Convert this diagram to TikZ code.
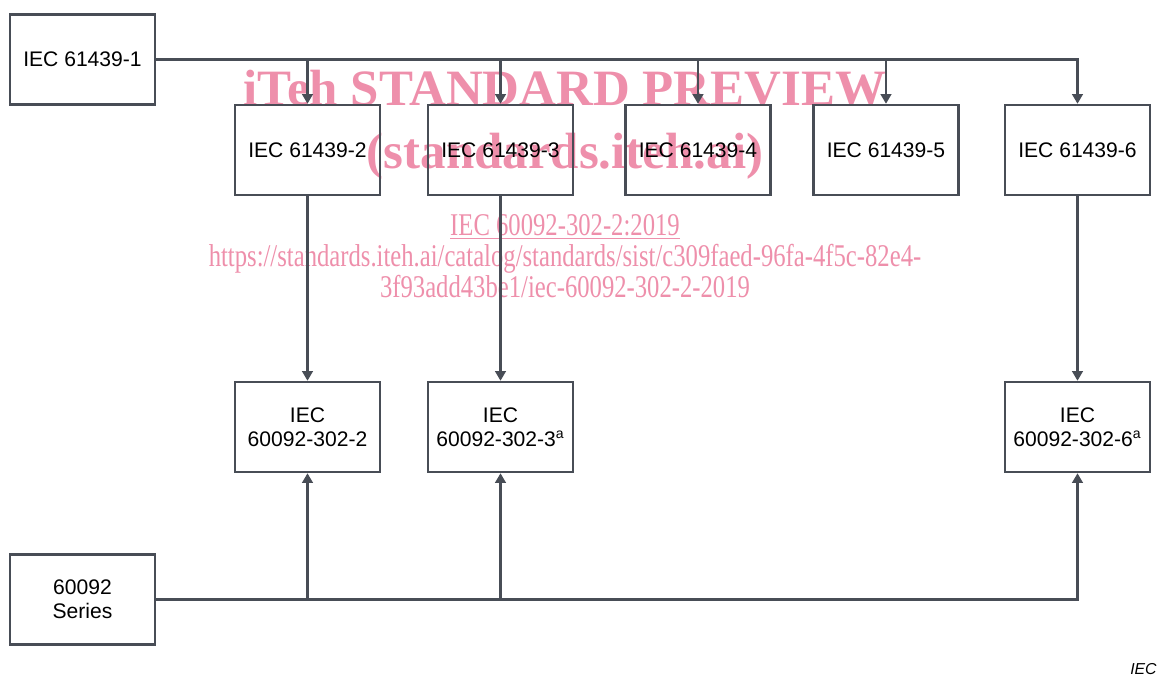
\documentclass[tikz,border=0pt]{standalone}
\usepackage{fontspec}
\setmainfont{Liberation Sans}
\newfontfamily\wmfont{Liberation Serif}
\usetikzlibrary{arrows.meta}
\definecolor{linec}{RGB}{72,77,86}
\definecolor{wmpink}{RGB}{238,143,171}

\tikzset{
  box/.style={draw=linec, line width=1.4pt, minimum width=2.9cm, minimum height=1.8cm,
    align=center, inner sep=0pt, font=\fontsize{12}{13.5}\selectfont},
  conn/.style={draw=linec, line width=1.4pt, -{Triangle[length=5.5pt,width=6pt]}},
  wmbig/.style={text=wmpink, anchor=base, font=\wmfont\bfseries\fontsize{29}{29}\selectfont},
  wmsmall/.style={text=wmpink, anchor=base, font=\wmfont\fontsize{18}{18}\selectfont},
}

\begin{document}
\begin{tikzpicture}[x=0.02cm, y=-0.02cm]
    \useasboundingbox (0,0) rectangle (1161,677);

    % watermark, behind everything
    \node[wmbig] (wmA) at (565,105) {iTeh STANDARD PREVIEW};
    \node[wmbig] (wmB) at (565,168) {(standards.iteh.ai)};
    \node[wmsmall] (wmC) at (565,235) {\scalebox{0.78}[1]{\underline{IEC 60092-302-2:2019}}};
    \node[wmsmall] (wmD) at (565,266) {\scalebox{0.78}[1]{https://standards.iteh.ai/catalog/standards/sist/c309faed-96fa-4f5c-82e4-}};
    \node[wmsmall] (wmE) at (565,297) {\scalebox{0.78}[1]{3f93add43be1/iec-60092-302-2-2019}};

    % IEC 61439 parts
    \node[box] (p1) at (82.5,59.5) {IEC 61439-1};
    \node[box] (p2) at (307.5,150) {IEC 61439-2};
    \node[box] (p3) at (500.5,150) {IEC 61439-3};
    \node[box] (p4) at (698,150) {IEC 61439-4};
    \node[box] (p5) at (886,150) {IEC 61439-5};
    \node[box] (p6) at (1077.5,150) {IEC 61439-6};

    % IEC 60092-302 parts
    \node[box] (m2) at (307.5,427) {IEC\\60092-302-2};
    \node[box] (m3) at (500.5,427) {IEC\\60092-302-3\textsuperscript{a}};
    \node[box] (m6) at (1077.5,427) {IEC\\60092-302-6\textsuperscript{a}};
    \node[box] (ser) at (82.5,599.5) {60092\\Series};

    \node[anchor=east, inner sep=0pt, font=\itshape\fontsize{9}{9}\selectfont] (iec) at (1157,669) {IEC};

    % connectors
    \path[conn] (p1.east) -| (p6.north);
    \foreach \n in {2,3,4,5}
        \path[conn] (p1.east -| p\n.north) -- (p\n.north);
    \foreach \n in {2,3,6}
        \path[conn] (p\n.south) -- (m\n.north);
    \path[conn] (ser.east) -| (m6.south);
    \foreach \n in {2,3}
        \path[conn] (ser.east -| m\n.south) -- (m\n.south);
\end{tikzpicture}
\end{document}
